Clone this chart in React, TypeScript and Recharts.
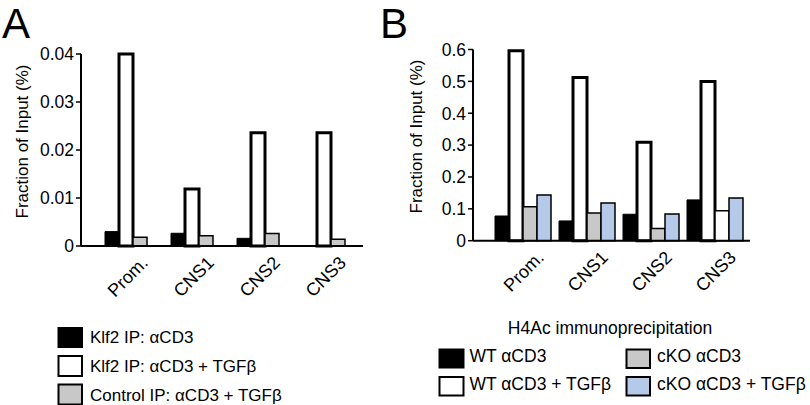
import React from 'react';
import { BarChart, Bar, XAxis, YAxis, Cell } from 'recharts';

const FONT = '"Liberation Sans", Arial, Helvetica, sans-serif';

const categories = ['Prom.', 'CNS1', 'CNS2', 'CNS3'];

// Panel A values (Fraction of Input, %)
const klf2Cd3 = [0.003, 0.00265, 0.0016, 0];
const klf2Cd3Tgfb = [0.04, 0.0119, 0.0236, 0.0236];
const controlCd3Tgfb = [0.0018, 0.00215, 0.0026, 0.0014];
const ticksA = [0, 0.01, 0.02, 0.03, 0.04];

// Panel B values (Fraction of Input, %)
const wtCd3 = [0.0775, 0.062, 0.083, 0.128];
const wtCd3Tgfb = [0.596, 0.512, 0.309, 0.4995];
const koCd3 = [0.1065, 0.087, 0.0386, 0.094];
const koCd3Tgfb = [0.1434, 0.118, 0.084, 0.134];
const ticksB = [0, 0.1, 0.2, 0.3, 0.4, 0.5, 0.6];

const legendA = ['Klf2 IP: \u03b1CD3', 'Klf2 IP: \u03b1CD3 + TGF\u03b2', 'Control IP: \u03b1CD3 + TGF\u03b2'];
const legendB = ['WT \u03b1CD3', 'WT \u03b1CD3 + TGF\u03b2', 'cKO \u03b1CD3', 'cKO \u03b1CD3 + TGF\u03b2'];
const legendBTitle = 'H4Ac immunoprecipitation';
const yTitle = 'Fraction of Input (%)';

const GRAY = '#c8c8c8';
const BLUE = '#b5c9e8';

const dataA = categories.map((name, i) => ({
  name,
  k1: klf2Cd3[i],
  k2: klf2Cd3Tgfb[i],
  ctl: controlCd3Tgfb[i],
}));

const dataB = categories.map((name, i) => ({
  name,
  w1: wtCd3[i],
  w2: wtCd3Tgfb[i],
  c1: koCd3[i],
  c2: koCd3Tgfb[i],
}));

const fmt = (v: number) => (v === 0 ? '0' : String(v));

const XTick = (props: any) => {
  const { x, y, payload } = props;
  return (
    <text
      transform={`translate(${x + 23},${y + 18}) rotate(-45)`}
      textAnchor="end"
      style={{ fontSize: 18, fontFamily: FONT }}
      fill="#000"
    >
      {payload.value}
    </text>
  );
};

const YTick = (props: any) => {
  const { x, y, payload } = props;
  return (
    <text
      x={x}
      y={y}
      dy="0.36em"
      textAnchor="end"
      style={{ fontSize: 17.5, fontFamily: FONT }}
      fill="#000"
    >
      {fmt(payload.value)}
    </text>
  );
};

const axisLine = { stroke: '#000', strokeWidth: 2 };
const tickLine = { stroke: '#000', strokeWidth: 1.5 };

export default function App() {
  return (
    <div
      style={{
        position: 'absolute',
        left: 0,
        top: 0,
        width: 810,
        height: 405,
        background: '#fff',
        overflow: 'hidden',
        fontFamily: FONT,
      }}
    >
      <div style={{ position: 'absolute', left: 0, top: 0 }}>
        <BarChart
          width={400}
          height={300}
          data={dataA}
          margin={{ top: 54, right: 37, bottom: 4, left: 0 }}
          barCategoryGap={12}
          barGap={0}
        >
          <XAxis
            dataKey="name"
            tickLine={false}
            axisLine={axisLine}
            padding={{ left: 12, right: 6 }}
            height={50}
            tickSize={0}
            tickMargin={0}
            interval={0}
            tick={<XTick />}
          />
          <YAxis
            type="number"
            domain={[0, 0.04]}
            ticks={ticksA}
            width={81}
            tickSize={5}
            tickMargin={2}
            axisLine={axisLine}
            tickLine={tickLine}
            tick={<YTick />}
          />
          <Bar dataKey="k1" fill="#000" stroke="#000" strokeWidth={1} isAnimationActive={false} />
          <Bar dataKey="k2" fill="#fff" stroke="#000" strokeWidth={3} isAnimationActive={false} />
          <Bar dataKey="ctl" fill={GRAY} stroke="#000" strokeWidth={1.5} isAnimationActive={false} />
        </BarChart>
      </div>

      <div style={{ position: 'absolute', left: 400, top: 0 }}>
        <BarChart
          width={410}
          height={300}
          data={dataB}
          margin={{ top: 49.5, right: 60, bottom: 4.3, left: 0 }}
          barCategoryGap={5}
          barGap={0}
        >
          <XAxis
            dataKey="name"
            tickLine={false}
            axisLine={axisLine}
            padding={{ left: 17, right: 4 }}
            height={55}
            tickSize={0}
            tickMargin={0}
            interval={0}
            tick={<XTick />}
          />
          <YAxis
            type="number"
            domain={[0, 0.6]}
            ticks={ticksB}
            width={73}
            tickSize={5}
            tickMargin={2}
            axisLine={axisLine}
            tickLine={tickLine}
            tick={<YTick />}
          />
          <Bar dataKey="w1" fill="#000" stroke="#000" strokeWidth={1} isAnimationActive={false} />
          <Bar dataKey="w2" fill="#fff" stroke="#000" strokeWidth={3} isAnimationActive={false} />
          <Bar dataKey="c1" fill={GRAY} stroke="#000" strokeWidth={1.5} isAnimationActive={false}>
            {categories.map((c) => (
              <Cell key={c} fill={c === 'CNS3' ? '#fff' : GRAY} />
            ))}
          </Bar>
          <Bar dataKey="c2" fill={BLUE} stroke="#000" strokeWidth={1.5} isAnimationActive={false} />
        </BarChart>
      </div>

      <svg
        width={810}
        height={405}
        style={{ position: 'absolute', left: 0, top: 0, pointerEvents: 'none' }}
        fontFamily={FONT}
      >
        <text x={2} y={38} fontSize={42} fill="#000">A</text>
        <text x={380} y={38} fontSize={42} fill="#000">B</text>

        <text
          transform="translate(22.5,141.5) rotate(-90)"
          textAnchor="middle"
          dy="0.35em"
          fontSize={17}
          fill="#000"
        >
          {yTitle}
        </text>
        <text
          transform="translate(416,136.5) rotate(-90)"
          textAnchor="middle"
          dy="0.35em"
          fontSize={17}
          fill="#000"
        >
          {yTitle}
        </text>

        {/* Legend A */}
        <rect x={57.5} y={327} width={25.5} height={21} fill="#000" />
        <rect x={58.5} y={356} width={23.5} height={20} fill="#fff" stroke="#000" strokeWidth={2} />
        <rect x={58.5} y={384.5} width={23.5} height={20} fill={GRAY} stroke="#000" strokeWidth={2} />
        <text x={90} y={343.3} fontSize={17} fill="#000">{legendA[0]}</text>
        <text x={90} y={372} fontSize={17} fill="#000">{legendA[1]}</text>
        <text x={90} y={400.5} fontSize={17} fill="#000">{legendA[2]}</text>

        {/* Legend B */}
        <text x={610} y={334} textAnchor="middle" fontSize={17.5} fill="#000">{legendBTitle}</text>
        <rect x={438.5} y={348.5} width={26} height={20} fill="#000" />
        <rect x={439.5} y={377} width={24} height={18.5} fill="#fff" stroke="#000" strokeWidth={2} />
        <rect x={626.5} y={349.5} width={23.5} height={18.5} fill={GRAY} stroke="#000" strokeWidth={2} />
        <rect x={626.5} y={377} width={23.5} height={18.5} fill={BLUE} stroke="#000" strokeWidth={2} />
        <text x={469.5} y={362.3} fontSize={17.5} fill="#000">{legendB[0]}</text>
        <text x={469.5} y={390} fontSize={17.5} fill="#000">{legendB[1]}</text>
        <text x={657} y={362.3} fontSize={17.5} fill="#000">{legendB[2]}</text>
        <text x={657} y={390} fontSize={17.5} fill="#000">{legendB[3]}</text>
      </svg>
    </div>
  );
}
